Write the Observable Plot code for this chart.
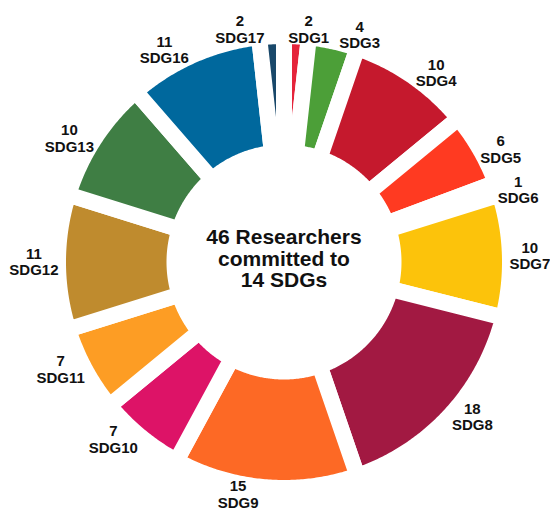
<!DOCTYPE html>
<html>
<head>
<meta charset="utf-8">
<script src="https://cdn.jsdelivr.net/npm/d3@7"></script>
<script src="https://cdn.jsdelivr.net/npm/@observablehq/plot@0.6"></script>
<style>
  html, body { margin: 0; padding: 0; background: #fff; }
  #chart svg { display: block; }
</style>
</head>
<body>
<div id="chart"></div>
<script>
// ---- data ----
const sdgs   = ["SDG1","SDG3","SDG4","SDG5","SDG6","SDG7","SDG8","SDG9","SDG10","SDG11","SDG12","SDG13","SDG16","SDG17"];
const counts = [2, 4, 10, 6, 1, 10, 18, 15, 7, 7, 11, 10, 11, 2];
const colors = ["#E5243B","#4C9F38","#C5192D","#FF3A21","#26BDE2","#FCC30B","#A21942","#FD6925","#DD1367","#FD9D24","#BF8B2E","#3F7E44","#00689D","#19486A"];
const centerLines = ["46 Researchers", "committed to", "14 SDGs"];

// ---- layout ----
const W = 550, H = 511;
const cx = 283.5, cy = 261.5;           // pie centre in pixels
const outerR = 226, innerR = 109.5;     // geometric radii (white stroke trims 8px)
const gapW = 16;                         // white separator width
const labelR = 218;
const labelFont = 15, labelLH = 1.09, labelBoxH = 30;
const FONT = "'Liberation Sans', Arial, Helvetica, sans-serif";

const arcs = d3.pie().sort(null).value(d => d)(counts);

// slice polygons (data units = pixels, y up, centre at 0,0)
const poly = [];
arcs.forEach((a, i) => {
  const span = a.endAngle - a.startAngle;
  const n = Math.max(2, Math.ceil(span / (Math.PI / 360)));
  for (let k = 0; k <= n; k++) {
    const t = a.startAngle + span * k / n;
    poly.push({sdg: sdgs[i], x: outerR * Math.sin(t), y: outerR * Math.cos(t)});
  }
  for (let k = n; k >= 0; k--) {
    const t = a.startAngle + span * k / n;
    poly.push({sdg: sdgs[i], x: innerR * Math.sin(t), y: innerR * Math.cos(t)});
  }
});

// label placement (outside, offset by text box like a pie "outside" label)
const ctx = document.createElement("canvas").getContext("2d");
ctx.font = `bold ${labelFont}px ${FONT}`;
const labels = arcs.map((a, i) => {
  const mid = (a.startAngle + a.endAngle) / 2;
  const text = `${counts[i]}\n${sdgs[i]}`;
  const w = Math.max(...text.split("\n").map(s => ctx.measureText(s).width));
  const h = labelBoxH;
  const px = labelR * Math.sin(mid), py = -labelR * Math.cos(mid); // screen (y down)
  let dx = w / 2, dy = h / 2;
  if (px < 0) dx = -dx;
  if (py < 0) dy = -dy;
  const ox = dx + Math.abs(dy) * (dx > 0 ? 1 : -1) / 2;
  const oy = dy / (1 + (px * px) / (py * py));
  return {text, w, h, px, sx: px + ox, sy: py + oy};
});
// simple collision resolution: push the label nearer the vertical axis sideways
for (let i = 0; i < labels.length; i++) {
  for (let j = 0; j < labels.length; j++) {
    if (i === j) continue;
    const A = labels[i], B = labels[j];
    const ovx = (A.w + B.w) / 2 - Math.abs(A.sx - B.sx);
    const ovy = (A.h + B.h) / 2 - Math.abs(A.sy - B.sy);
    if (ovx > 0 && ovy > 0) {
      const mover = Math.abs(A.px) < Math.abs(B.px) ? A : B;
      const other = mover === A ? B : A;
      const dir = mover.sx < other.sx ? -1 : 1;
      mover.sx += dir * (ovx + 10);
    }
  }
}
const labelData = labels.map(l => ({text: l.text, x: l.sx, y: -l.sy}));

const chart = Plot.plot({
  width: W,
  height: H,
  margin: 0,
  x: {domain: [-cx, W - cx], axis: null},
  y: {domain: [cy - H, cy], axis: null},
  color: {domain: sdgs, range: colors},
  style: {background: "#fff", fontFamily: FONT},
  marks: [
    Plot.line(poly, {
      x: "x", y: "y", z: "sdg", fill: "sdg",
      stroke: "white", strokeWidth: gapW, strokeLinejoin: "round",
      curve: "linear-closed"
    }),
    Plot.text(labelData, {
      x: "x", y: "y", text: "text",
      fontSize: labelFont, fontWeight: "bold", lineHeight: labelLH,
      fill: "#111", fontFamily: FONT
    }),
    Plot.text([centerLines.join("\n")], {
      x: () => 0, y: () => 0, text: d => d, dy: -3,
      fontSize: 21, fontWeight: "bold", lineHeight: 1.025,
      fill: "#111", fontFamily: FONT
    })
  ]
});
document.getElementById("chart").append(chart);
</script>
</body>
</html>
